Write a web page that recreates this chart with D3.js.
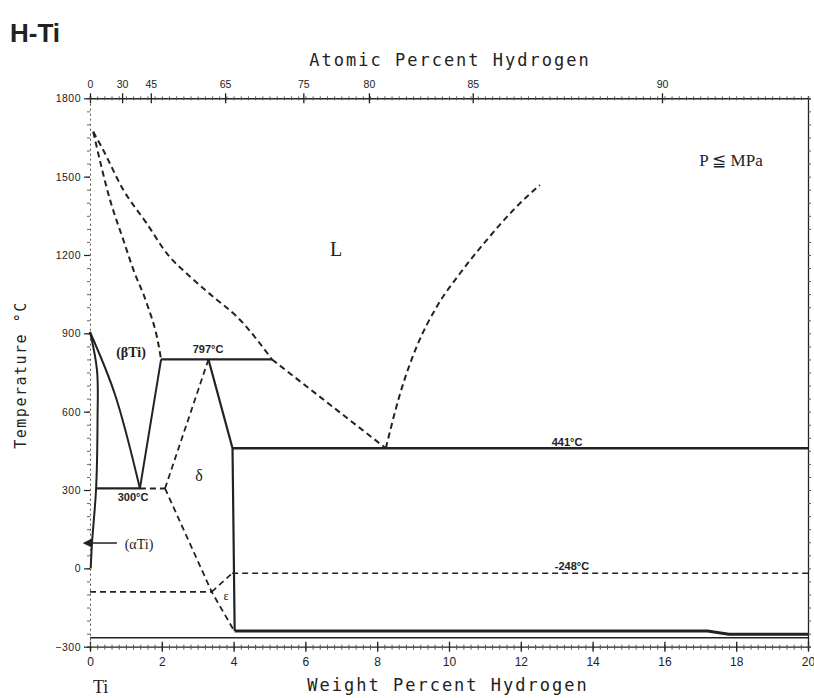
<!DOCTYPE html>
<html>
<head>
<meta charset="utf-8">
<script src="https://cdn.jsdelivr.net/npm/d3@7"></script>
<style>
  body { margin: 0; background: #fff; }
  text { fill: #222; }
</style>
</head>
<body>
<div id="chart"></div>
<script>
// tick values
var wtTicks = [0, 2, 4, 6, 8, 10, 12, 14, 16, 18, 20];
var atTicks = [0, 30, 45, 65, 75, 80, 85, 90];
var tempTicks = [-300, 0, 300, 600, 900, 1200, 1500, 1800];

// phase boundaries, [wt% H, temperature C]
var liquidusTi = [[0.09, 1672], [0.33, 1612], [0.93, 1449], [1.58, 1321], [2.14, 1206], [2.79, 1117], [3.43, 1040], [4.09, 964], [5.07, 800]];
var liquidusTiLow = [[5.07, 800], [8.24, 460]];
var solidusBeta = [[0.09, 1672], [0.56, 1410], [0.93, 1257], [1.21, 1143], [1.58, 1015], [1.90, 862], [1.98, 800]];
var liquidusH = [[8.24, 460], [8.64, 670], [9.10, 849], [9.66, 1002], [10.31, 1130], [11.05, 1257], [11.79, 1372], [12.53, 1468]];
var betaLeft = [[0, 905], [0.70, 664], [1.39, 306]];
var betaRight = [[1.39, 306], [1.98, 800]];
var alphaSolvus = [[0, 905], [0.195, 759], [0.21, 568], [0.17, 306], [0.056, 97], [0.02, 0]];
var eutectoid300 = [[0.17, 306], [1.39, 306]];
var eutectoid300Dash = [[1.39, 306], [2.09, 306]];
var peritectic797 = [[1.98, 800], [5.07, 800]];
var deltaLeft = [[2.09, 306], [3.3, 800]];
var deltaRight = [[3.3, 800], [3.97, 460], [4.03, -240]];
var eutectic441 = [[3.97, 460], [20, 460]];
var deltaLow = [[2.09, 306], [3.39, -90], [4.03, -243]];
var epsilonTop = [[3.39, -90], [3.96, -19]];
var line248 = [[3.96, -19], [20, -19]];
var lineMinus90 = [[0, -90], [3.39, -90]];
var lowLineA = [[4.03, -240], [17.2, -240], [17.8, -252], [20, -252]];
var lowLineB = [[0, -266], [20, -266]];
var alphaArrow = [[0.75, 97], [0, 97]];

var W = 814, H = 698;
var svg = d3.select("#chart").append("svg")
    .attr("width", W).attr("height", H)
    .style("font-family", "'Liberation Sans', Arial, sans-serif");

var x = d3.scaleLinear().domain([0, 20]).range([90, 808]);
var y = d3.scaleLinear().domain([-300, 1800]).range([646.7, 98.3]);

// atomic % -> weight %
function atToWt(a) {
    var h = a * 1.008, ti = (100 - a) * 47.867;
    return 100 * h / (h + ti);
}

var ink = "#222";

// ---- axes ----
// bottom minor
svg.append("g").attr("transform", "translate(0," + y(-300) + ")")
    .call(d3.axisBottom(x).tickValues(d3.range(0, 20.001, 0.2)).tickSize(3).tickFormat(""))
    .call(function(g) { g.selectAll("line").attr("y1", -2).attr("stroke", "#555"); g.select(".domain").attr("stroke", ink).attr("stroke-width", 1.3); });
// bottom major
svg.append("g").attr("transform", "translate(0," + y(-300) + ")")
    .call(d3.axisBottom(x).tickValues(wtTicks).tickSize(5).tickPadding(6).tickFormat(d3.format("d")))
    .call(function(g) {
        g.select(".domain").remove();
        g.selectAll("line").attr("y1", -5).attr("stroke", ink).attr("stroke-width", 1.3);
        g.selectAll("text").attr("font-size", 12).attr("fill", ink);
    });

// top minor
svg.append("g").attr("transform", "translate(0," + y(1800) + ")")
    .call(d3.axisTop(x).tickValues(d3.range(0, 20.001, 0.2)).tickSize(2).tickFormat(""))
    .call(function(g) { g.selectAll("line").attr("y1", 2).attr("stroke", "#555"); g.select(".domain").attr("stroke", ink).attr("stroke-width", 1.5); });
// top major (atomic percent)
svg.append("g").attr("transform", "translate(0," + y(1800) + ")")
    .call(d3.axisTop(x).tickValues(atTicks.map(atToWt)).tickSize(5).tickPadding(5)
        .tickFormat(function(d, i) { return atTicks[i]; }))
    .call(function(g) {
        g.select(".domain").remove();
        g.selectAll("line").attr("y1", 5).attr("stroke", ink).attr("stroke-width", 1.3);
        g.selectAll("text").attr("font-size", 10.5).attr("fill", ink);
    });

// left minor (dotted look)
svg.append("g").attr("transform", "translate(" + x(0) + ",0)")
    .call(d3.axisLeft(y).tickValues(d3.range(-300, 1800.1, 50)).tickSize(3).tickFormat(""))
    .call(function(g) { g.selectAll("line").attr("stroke", "#666"); g.select(".domain").attr("stroke", "#555").attr("stroke-dasharray", "2,3"); });
// left major
svg.append("g").attr("transform", "translate(" + x(0) + ",0)")
    .call(d3.axisLeft(y).tickValues(tempTicks).tickSize(6).tickPadding(3).tickFormat(d3.format("d")))
    .call(function(g) {
        g.select(".domain").remove();
        g.selectAll("line").attr("stroke", ink).attr("stroke-width", 1.2);
        g.selectAll("text").attr("font-size", 10.5).attr("fill", ink).attr("letter-spacing", 0.5);
    });

// right axis
svg.append("g").attr("transform", "translate(" + x(20) + ",0)")
    .call(d3.axisRight(y).tickValues(d3.range(-300, 1800.1, 50)).tickSize(3).tickFormat(""))
    .call(function(g) { g.selectAll("line").attr("stroke", "#555"); g.select(".domain").attr("stroke", ink).attr("stroke-width", 1.3); });

// ---- boundaries ----
var straight = d3.line().x(function(d) { return x(d[0]); }).y(function(d) { return y(d[1]); });
var smooth = d3.line().x(function(d) { return x(d[0]); }).y(function(d) { return y(d[1]); }).curve(d3.curveMonotoneX);
var loose = d3.line().x(function(d) { return x(d[0]); }).y(function(d) { return y(d[1]); }).curve(d3.curveCatmullRom);

function draw(data, gen, width, dashed) {
    svg.append("path").datum(data)
        .attr("d", gen)
        .attr("fill", "none")
        .attr("stroke", ink)
        .attr("stroke-width", width)
        .attr("stroke-dasharray", dashed ? "6,4" : null)
        .attr("stroke-linejoin", "round");
}

draw(liquidusTi, smooth, 2, true);
draw(liquidusTiLow, straight, 2, true);
draw(solidusBeta, smooth, 2, true);
draw(liquidusH, smooth, 2, true);
draw(betaLeft, loose, 2, false);
draw(betaRight, straight, 2, false);
draw(alphaSolvus, loose, 2, false);
draw(eutectoid300, straight, 2.2, false);
draw(eutectoid300Dash, straight, 2, true);
draw(peritectic797, straight, 2.2, false);
draw(deltaLeft, straight, 1.8, true);
draw(deltaRight, straight, 2.2, false);
draw(eutectic441, straight, 2.4, false);
draw(deltaLow, straight, 1.8, true);
draw(epsilonTop, straight, 1.6, true);
draw(line248, straight, 1.6, true);
draw(lineMinus90, straight, 1.6, true);
draw(lowLineA, straight, 3, false);
draw(lowLineB, straight, 1.6, false);

// alpha arrow
svg.append("defs").append("marker")
    .attr("id", "arr").attr("viewBox", "0 0 10 10").attr("refX", 2).attr("refY", 5)
    .attr("markerWidth", 6).attr("markerHeight", 6).attr("orient", "auto")
    .append("path").attr("d", "M0,0L10,5L0,10Z").attr("fill", ink);
svg.append("path").datum(alphaArrow).attr("d", straight)
    .attr("stroke", ink).attr("stroke-width", 1.5).attr("fill", "none")
    .attr("marker-end", "url(#arr)");

// ---- text ----
svg.append("text").attr("x", 10).attr("y", 42).attr("font-size", 26).attr("font-weight", "bold")
    .attr("fill", "#2a2a2a").text("H-Ti");

var mono = "'DejaVu Sans Mono', 'Liberation Mono', monospace";
svg.append("text").attr("x", 450).attr("y", 66).attr("text-anchor", "middle")
    .attr("font-family", mono).attr("font-size", 17).attr("letter-spacing", 2)
    .text("Atomic Percent Hydrogen");
svg.append("text").attr("x", 448).attr("y", 691).attr("text-anchor", "middle")
    .attr("font-family", mono).attr("font-size", 17).attr("letter-spacing", 2)
    .text("Weight Percent Hydrogen");
svg.append("text").attr("transform", "translate(26,375) rotate(-90)").attr("text-anchor", "middle")
    .attr("font-family", mono).attr("font-size", 15).attr("letter-spacing", 1.5)
    .text("Temperature °C");

var serif = "'Liberation Serif', 'DejaVu Serif', serif";
svg.append("text").attr("x", 93).attr("y", 693).attr("font-family", serif).attr("font-size", 18).text("Ti");
svg.append("text").attr("x", 731).attr("y", 166).attr("text-anchor", "middle")
    .attr("font-family", serif).attr("font-size", 17).text("P ≦ MPa");
svg.append("text").attr("x", 336).attr("y", 256).attr("text-anchor", "middle")
    .attr("font-family", serif).attr("font-size", 20).text("L");

function label(t, px, py, size, weight, fam) {
    svg.append("text").attr("x", px).attr("y", py).attr("text-anchor", "middle")
        .attr("font-size", size).attr("font-weight", weight || "normal")
        .attr("font-family", fam || null).text(t);
}
label("(βTi)", 131, 357, 14, "bold", serif);
label("797°C", 208, 353, 11, "bold");
label("300°C", 133, 501, 11, "bold");
label("(αTi)", 139, 549, 14, "normal", serif);
label("δ", 199, 481, 16, "normal", serif);
label("ε", 226, 600, 12, "normal", serif);
label("441°C", 567, 446, 11, "bold");
label("-248°C", 572, 570, 11, "bold");
</script>
</body>
</html>
